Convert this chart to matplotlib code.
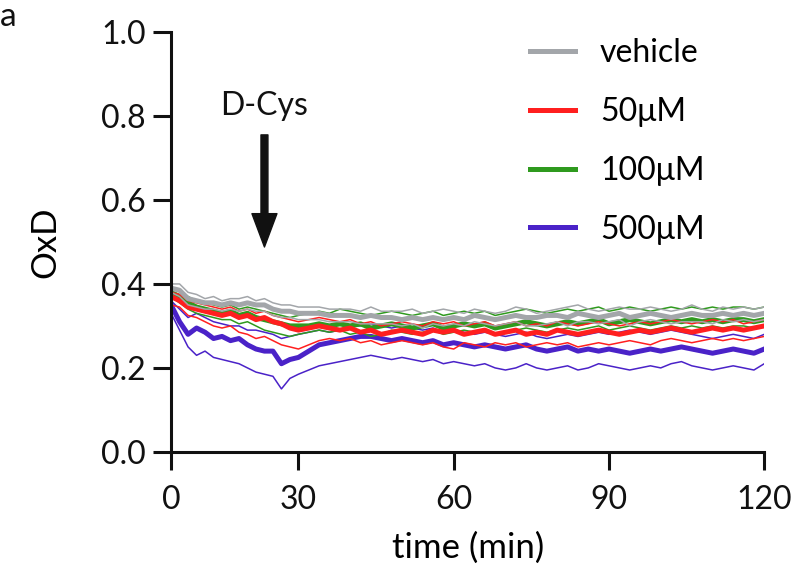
import numpy as np
import matplotlib
matplotlib.use("Agg")
import matplotlib.pyplot as plt

plt.rcParams['font.family'] = ['Lato', 'DejaVu Sans']

time_min = list(range(0, 121, 2))

vehicle_mean = [0.39, 0.385, 0.365, 0.36, 0.355, 0.355, 0.35, 0.355, 0.35, 0.355, 0.35, 0.35, 0.34, 0.335, 0.335, 0.33, 0.33, 0.33, 0.325, 0.325, 0.325, 0.32, 0.325, 0.32, 0.32, 0.315, 0.32, 0.315, 0.32, 0.315, 0.32, 0.315, 0.325, 0.32, 0.315, 0.32, 0.325, 0.32, 0.32, 0.325, 0.325, 0.32, 0.33, 0.325, 0.32, 0.325, 0.33, 0.32, 0.325, 0.33, 0.325, 0.32, 0.325, 0.33, 0.325, 0.325, 0.33, 0.325, 0.33, 0.325, 0.33]
vehicle_hi = [0.40, 0.40, 0.38, 0.375, 0.365, 0.37, 0.36, 0.365, 0.365, 0.37, 0.36, 0.365, 0.355, 0.35, 0.35, 0.345, 0.345, 0.345, 0.34, 0.34, 0.34, 0.335, 0.345, 0.335, 0.335, 0.335, 0.34, 0.33, 0.335, 0.34, 0.335, 0.33, 0.34, 0.335, 0.33, 0.335, 0.345, 0.34, 0.33, 0.335, 0.34, 0.345, 0.35, 0.34, 0.335, 0.34, 0.345, 0.34, 0.34, 0.345, 0.34, 0.335, 0.34, 0.35, 0.34, 0.335, 0.345, 0.34, 0.345, 0.34, 0.345]
vehicle_lo = [0.38, 0.37, 0.35, 0.345, 0.34, 0.34, 0.335, 0.34, 0.335, 0.34, 0.335, 0.335, 0.325, 0.32, 0.32, 0.315, 0.315, 0.315, 0.31, 0.31, 0.31, 0.305, 0.305, 0.305, 0.305, 0.30, 0.305, 0.295, 0.305, 0.30, 0.305, 0.30, 0.31, 0.305, 0.30, 0.305, 0.31, 0.30, 0.30, 0.305, 0.31, 0.30, 0.31, 0.31, 0.305, 0.31, 0.315, 0.30, 0.31, 0.315, 0.31, 0.305, 0.31, 0.31, 0.31, 0.305, 0.315, 0.31, 0.315, 0.31, 0.315]

d50_mean = [0.37, 0.36, 0.345, 0.34, 0.335, 0.33, 0.325, 0.33, 0.32, 0.325, 0.315, 0.32, 0.31, 0.305, 0.295, 0.29, 0.295, 0.30, 0.295, 0.29, 0.295, 0.285, 0.29, 0.28, 0.285, 0.29, 0.285, 0.28, 0.29, 0.285, 0.29, 0.28, 0.285, 0.29, 0.28, 0.285, 0.29, 0.28, 0.285, 0.28, 0.29, 0.285, 0.28, 0.285, 0.29, 0.285, 0.28, 0.285, 0.29, 0.285, 0.29, 0.295, 0.29, 0.285, 0.29, 0.295, 0.29, 0.295, 0.29, 0.295, 0.30]
d50_hi = [0.38, 0.375, 0.36, 0.355, 0.35, 0.345, 0.34, 0.345, 0.335, 0.34, 0.33, 0.335, 0.325, 0.32, 0.315, 0.31, 0.315, 0.32, 0.315, 0.31, 0.315, 0.305, 0.31, 0.30, 0.305, 0.31, 0.305, 0.30, 0.31, 0.305, 0.31, 0.30, 0.305, 0.31, 0.30, 0.305, 0.31, 0.30, 0.305, 0.30, 0.31, 0.305, 0.30, 0.305, 0.31, 0.305, 0.30, 0.305, 0.31, 0.305, 0.31, 0.315, 0.31, 0.305, 0.31, 0.315, 0.31, 0.315, 0.305, 0.31, 0.315]
d50_lo = [0.35, 0.345, 0.325, 0.32, 0.31, 0.30, 0.295, 0.30, 0.285, 0.28, 0.27, 0.275, 0.265, 0.255, 0.25, 0.245, 0.255, 0.265, 0.27, 0.265, 0.27, 0.26, 0.265, 0.255, 0.26, 0.265, 0.26, 0.255, 0.26, 0.25, 0.245, 0.26, 0.255, 0.25, 0.26, 0.255, 0.26, 0.25, 0.255, 0.26, 0.255, 0.26, 0.25, 0.255, 0.26, 0.255, 0.26, 0.265, 0.26, 0.255, 0.265, 0.27, 0.265, 0.26, 0.265, 0.27, 0.265, 0.27, 0.265, 0.27, 0.275]

d100_mean = [0.38, 0.37, 0.355, 0.345, 0.34, 0.335, 0.33, 0.335, 0.325, 0.33, 0.32, 0.315, 0.31, 0.305, 0.30, 0.30, 0.30, 0.305, 0.30, 0.305, 0.30, 0.305, 0.295, 0.30, 0.305, 0.30, 0.295, 0.30, 0.305, 0.295, 0.30, 0.305, 0.30, 0.305, 0.295, 0.30, 0.305, 0.31, 0.305, 0.30, 0.305, 0.31, 0.305, 0.31, 0.315, 0.305, 0.31, 0.315, 0.31, 0.305, 0.31, 0.315, 0.31, 0.315, 0.31, 0.315, 0.31, 0.315, 0.315, 0.31, 0.315]
d100_hi = [0.39, 0.385, 0.37, 0.36, 0.355, 0.35, 0.345, 0.35, 0.34, 0.345, 0.34, 0.335, 0.33, 0.325, 0.32, 0.325, 0.33, 0.335, 0.33, 0.34, 0.335, 0.33, 0.325, 0.33, 0.335, 0.33, 0.325, 0.33, 0.335, 0.325, 0.33, 0.335, 0.33, 0.335, 0.325, 0.33, 0.335, 0.34, 0.335, 0.33, 0.335, 0.34, 0.335, 0.34, 0.345, 0.335, 0.34, 0.345, 0.34, 0.335, 0.34, 0.345, 0.34, 0.345, 0.34, 0.345, 0.34, 0.345, 0.345, 0.34, 0.345]
d100_lo = [0.37, 0.355, 0.34, 0.33, 0.325, 0.32, 0.315, 0.315, 0.305, 0.31, 0.30, 0.29, 0.285, 0.28, 0.275, 0.28, 0.285, 0.29, 0.285, 0.29, 0.28, 0.285, 0.275, 0.28, 0.29, 0.285, 0.28, 0.285, 0.29, 0.28, 0.285, 0.29, 0.285, 0.29, 0.28, 0.285, 0.29, 0.295, 0.29, 0.285, 0.29, 0.295, 0.29, 0.295, 0.30, 0.29, 0.295, 0.30, 0.295, 0.29, 0.295, 0.30, 0.295, 0.30, 0.295, 0.30, 0.295, 0.30, 0.30, 0.295, 0.30]

d500_mean = [0.35, 0.31, 0.28, 0.295, 0.285, 0.27, 0.275, 0.265, 0.27, 0.255, 0.245, 0.24, 0.24, 0.21, 0.22, 0.225, 0.24, 0.255, 0.26, 0.265, 0.27, 0.275, 0.275, 0.27, 0.265, 0.27, 0.265, 0.26, 0.265, 0.255, 0.26, 0.255, 0.25, 0.255, 0.25, 0.245, 0.25, 0.255, 0.245, 0.24, 0.245, 0.25, 0.24, 0.245, 0.24, 0.245, 0.24, 0.235, 0.24, 0.245, 0.24, 0.245, 0.25, 0.245, 0.24, 0.235, 0.24, 0.245, 0.24, 0.235, 0.245]
d500_hi = [0.36, 0.34, 0.32, 0.33, 0.32, 0.31, 0.305, 0.30, 0.30, 0.29, 0.29, 0.285, 0.28, 0.27, 0.275, 0.28, 0.285, 0.29, 0.285, 0.29, 0.30, 0.30, 0.305, 0.30, 0.295, 0.30, 0.295, 0.29, 0.295, 0.285, 0.29, 0.285, 0.28, 0.285, 0.28, 0.275, 0.28, 0.285, 0.275, 0.27, 0.275, 0.28, 0.275, 0.28, 0.285, 0.28, 0.285, 0.29, 0.285, 0.28, 0.285, 0.29, 0.285, 0.28, 0.275, 0.27, 0.275, 0.28, 0.275, 0.27, 0.28]
d500_lo = [0.33, 0.29, 0.25, 0.23, 0.24, 0.225, 0.22, 0.215, 0.21, 0.20, 0.19, 0.185, 0.18, 0.15, 0.175, 0.185, 0.195, 0.205, 0.21, 0.215, 0.22, 0.225, 0.23, 0.225, 0.22, 0.225, 0.22, 0.215, 0.22, 0.21, 0.215, 0.21, 0.205, 0.21, 0.20, 0.195, 0.20, 0.21, 0.20, 0.195, 0.20, 0.205, 0.195, 0.20, 0.21, 0.205, 0.20, 0.195, 0.20, 0.205, 0.20, 0.21, 0.215, 0.205, 0.20, 0.195, 0.20, 0.205, 0.20, 0.195, 0.21]

labels = ["vehicle", "50μM", "100μM", "500μM"]
colors = ["#a3a6aa", "#ff1f1f", "#2f9a1e", "#4a22c8"]
groups = [
    (vehicle_mean, vehicle_hi, vehicle_lo),
    (d50_mean, d50_hi, d50_lo),
    (d100_mean, d100_hi, d100_lo),
    (d500_mean, d500_hi, d500_lo),
]

# x axis in the original is drawn with a compressed first segment (0-30)
K = 24.6 / 30.0
def _fwd(x):
    x = np.asarray(x, dtype=float)
    return np.where(x < 30, x * K, 24.6 + (x - 30))
def _inv(y):
    y = np.asarray(y, dtype=float)
    return np.where(y < 24.6, y / K, 30 + (y - 24.6))

fig = plt.figure(figsize=(7.92, 5.72), dpi=100)
ax = fig.add_axes([0.216, 0.21, 0.749, 0.734])
ax.set_xscale('function', functions=(_fwd, _inv))

# draw in reverse so vehicle ends on top
for (m, hi, lo), c in list(zip(groups, colors))[::-1]:
    ax.plot(time_min, hi, color=c, lw=1.1)
    ax.plot(time_min, lo, color=c, lw=1.1)
    ax.plot(time_min, m, color=c, lw=3.6)

ax.set_xlim(0, 120)
ax.set_ylim(0, 1.0)
ax.set_xticks([0, 30, 60, 90, 120])
ax.set_xticklabels(["0", "30", "60", "90", "120"])
ax.minorticks_off()
ax.set_yticks([0.0, 0.2, 0.4, 0.6, 0.8, 1.0])
ax.set_yticklabels(["0.0", "0.2", "0.4", "0.6", "0.8", "1.0"])
for s in ["top", "right"]:
    ax.spines[s].set_visible(False)
for s in ["left", "bottom"]:
    ax.spines[s].set_linewidth(2.2)
    ax.spines[s].set_color("#111111")
ax.tick_params(axis='both', which='major', length=13, width=2.2, colors="#111111",
               labelsize=23)
ax.tick_params(axis='x', pad=11)
ax.tick_params(axis='y', pad=5)
ax.set_xlabel("time (min)", fontsize=25, labelpad=12)
ax.set_ylabel("OxD", fontsize=25, labelpad=29)

leg_handles = [plt.Line2D([], [], color=c, lw=3.6) for c in colors]
ax.legend(leg_handles, labels, loc='upper left', bbox_to_anchor=(530 / 792, 0.933),
          bbox_transform=fig.transFigure, frameon=False, fontsize=23,
          handlelength=1.41, handletextpad=0.78, labelspacing=0.90,
          borderpad=0, borderaxespad=0)

ax.annotate("", xy=(22, 0.488), xytext=(22, 0.755),
            arrowprops=dict(width=5, headwidth=18, headlength=24, shrink=0,
                            color="#111111"))
ax.text(22, 0.802, "D-Cys", ha='center', va='baseline', fontsize=23, color="#111111")

fig.text(0.0, 0.997, "a", ha='left', va='top', fontsize=24, color="#111111")

fig.savefig("out.png", dpi=100)
